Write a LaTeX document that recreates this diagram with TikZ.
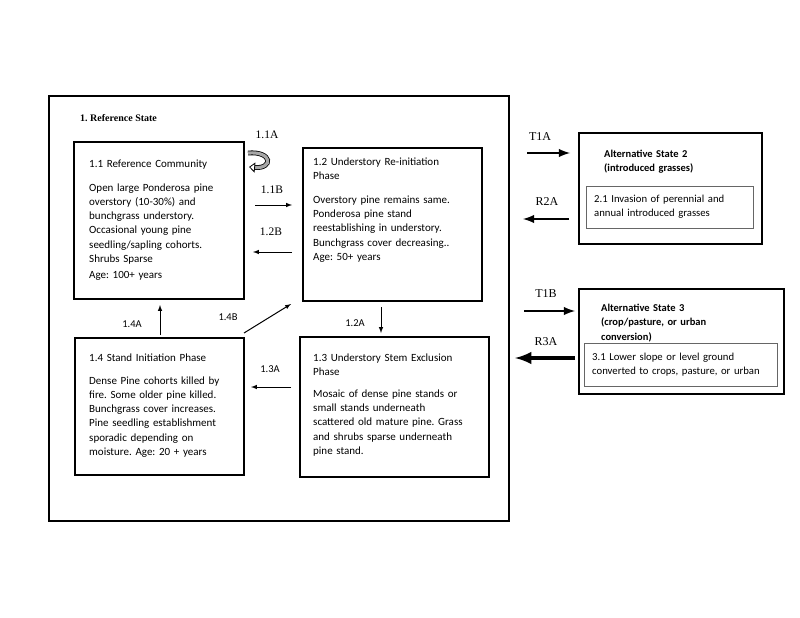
\documentclass[tikz,border=0pt]{standalone}
\usepackage{fontspec}
\setmainfont{Carlito}
\newfontfamily\numfont{Liberation Serif}
\usetikzlibrary{arrows.meta}
\frenchspacing

\tikzset{
  frame/.style={draw, line width=1.6pt, anchor=north west, inner sep=0pt},
  phasebox/.style={draw, line width=1.6pt, anchor=north west, inner sep=0pt},
  subbox/.style={draw=black!60, line width=0.9pt, anchor=north west, inner sep=0pt},
  boxtext/.style={anchor=base west, inner sep=0pt, align=left, text width=190pt,
    font=\fontsize{11}{14.2}\selectfont},
  steplabel/.style={inner sep=0pt, font=\numfont\fontsize{11.5}{13}\selectfont},
  sidelabel/.style={inner sep=0pt, font=\fontsize{10.5}{12}\selectfont},
  statelabel/.style={inner sep=0pt, font=\numfont\fontsize{12}{14}\selectfont},
  pathway/.style={-latex, line width=1pt},
  transition/.style={-latex, line width=2.8pt}
}

\begin{document}
\begin{tikzpicture}[x=1pt, y=-1pt]
  \useasboundingbox (0,0) rectangle (800,618);

  % reference state
  \node[frame, minimum width=460pt, minimum height=425pt] (refstate) at (48,95) {};
  \node[anchor=base west, inner sep=0pt, font=\numfont\bfseries\fontsize{10}{12}\selectfont]
    (reftitle) at (80,121) {1. Reference State};

  \node[phasebox, minimum width=170pt, minimum height=157pt] (c11) at (73,141) {};
  \node[phasebox, minimum width=179pt, minimum height=153pt] (c12) at (302,147) {};
  \node[phasebox, minimum width=169pt, minimum height=137pt] (c14) at (74,337) {};
  \node[phasebox, minimum width=189pt, minimum height=140pt] (c13) at (299,336) {};

  \node[boxtext] (c11t) at (89,167) {1.1 Reference Community\\[10pt]
    Open large Ponderosa pine\\ overstory (10-30\%) and\\ bunchgrass understory.\\
    Occasional young pine\\ seedling/sapling cohorts.\\ Shrubs Sparse\\[2pt]
    Age: 100+ years};
  \node[boxtext] (c12t) at (313,165) {1.2 Understory Re-initiation\\ Phase\\[10pt]
    Overstory pine remains same.\\ Ponderosa pine stand\\ reestablishing in understory.\\
    Bunchgrass cover decreasing..\\ Age: 50+ years};
  \node[boxtext] (c14t) at (89,361) {1.4 Stand Initiation Phase\\[9pt]
    Dense Pine cohorts killed by\\ fire. Some older pine killed.\\
    Bunchgrass cover increases.\\ Pine seedling establishment\\
    sporadic depending on\\ moisture. Age: 20 + years};
  \node[boxtext] (c13t) at (313,361) {1.3 Understory Stem Exclusion\\ Phase\\[8pt]
    Mosaic of dense pine stands or\\ small stands underneath\\
    scattered old mature pine. Grass\\ and shrubs sparse underneath\\ pine stand.};

  % alternative states
  \node[phasebox, minimum width=183pt, minimum height=111pt] (alt2) at (578,132) {};
  \node[subbox, minimum width=167pt, minimum height=42pt] (c21) at (586,186) {};
  \node[boxtext, font=\bfseries\fontsize{10.5}{14.2}\selectfont] (alt2t) at (604,157)
    {Alternative State 2\\ (introduced grasses)};
  \node[boxtext, font=\fontsize{10.7}{14.2}\selectfont] (c21t) at (594,202)
    {2.1 Invasion of perennial and\\ annual introduced grasses};

  \node[phasebox, minimum width=205pt, minimum height=105pt] (alt3) at (578,288) {};
  \node[subbox, minimum width=193pt, minimum height=43pt] (c31) at (584,343) {};
  \node[boxtext, font=\bfseries\fontsize{10.5}{14.5}\selectfont] (alt3t) at (601,311)
    {Alternative State 3\\ (crop/pasture, or urban\\ conversion)};
  \node[boxtext, font=\fontsize{10.7}{14.2}\selectfont] (c31t) at (592,360)
    {3.1 Lower slope or level ground\\ converted to crops, pasture, or urban};

  % arrow ends
  \coordinate (p11b-s) at (255,205);  \coordinate (p11b-e) at (292,205);
  \coordinate (p12b-s) at (292,252);  \coordinate (p12b-e) at (253,252);
  \coordinate (p12a-s) at (381,307);  \coordinate (p12a-e) at (381,333);
  \coordinate (p13a-s) at (291,387);  \coordinate (p13a-e) at (251,387);
  \coordinate (p14a-s) at (160,335);  \coordinate (p14a-e) at (160,305);
  \coordinate (p14b-s) at (244,333);  \coordinate (p14b-e) at (291,304);
  \coordinate (t1a-s) at (527,153);   \coordinate (t1a-e) at (570,153);
  \coordinate (r2a-s) at (569,219);   \coordinate (r2a-e) at (523,219);
  \coordinate (t1b-s) at (524,311);   \coordinate (t1b-e) at (575,311);
  \coordinate (r3a-s) at (575,358);   \coordinate (r3a-e) at (515,358);
  \coordinate (p11a-s) at (248,153);  \coordinate (p11a-e) at (249,167);

  \draw[pathway] (p11b-s) -- (p11b-e);
  \draw[pathway] (p12b-s) -- (p12b-e);
  \draw[pathway] (p12a-s) -- (p12a-e);
  \draw[pathway] (p13a-s) -- (p13a-e);
  \draw[pathway] (p14a-s) -- (p14a-e);
  \draw[pathway] (p14b-s) -- (p14b-e);
  \draw[transition] (t1a-s) -- (t1a-e);
  \draw[transition] (r2a-s) -- (r2a-e);
  \draw[transition] (t1b-s) -- (t1b-e);
  \draw[transition, line width=4.5pt] (r3a-s) -- (r3a-e);
  \draw[line width=0.8pt, double=black!35, double distance=3.2pt, -{Triangle[open, length=6pt, width=10pt]}]
    (p11a-s) .. controls (273,151) and (273,169) .. (p11a-e);

  % labels
  \node[steplabel] (l11a) at (267,135) {1.1A};
  \node[steplabel] (l11b) at (272,190) {1.1B};
  \node[steplabel] (l12b) at (271,232) {1.2B};
  \node[sidelabel] (l12a) at (355,323) {1.2A};
  \node[sidelabel] (l13a) at (270,369) {1.3A};
  \node[sidelabel] (l14a) at (132,324) {1.4A};
  \node[sidelabel] (l14b) at (228,317) {1.4B};
  \node[statelabel] (lt1a) at (540,137) {T1A};
  \node[statelabel] (lr2a) at (547,202) {R2A};
  \node[statelabel] (lt1b) at (546,294) {T1B};
  \node[statelabel] (lr3a) at (546,342) {R3A};
\end{tikzpicture}
\end{document}
